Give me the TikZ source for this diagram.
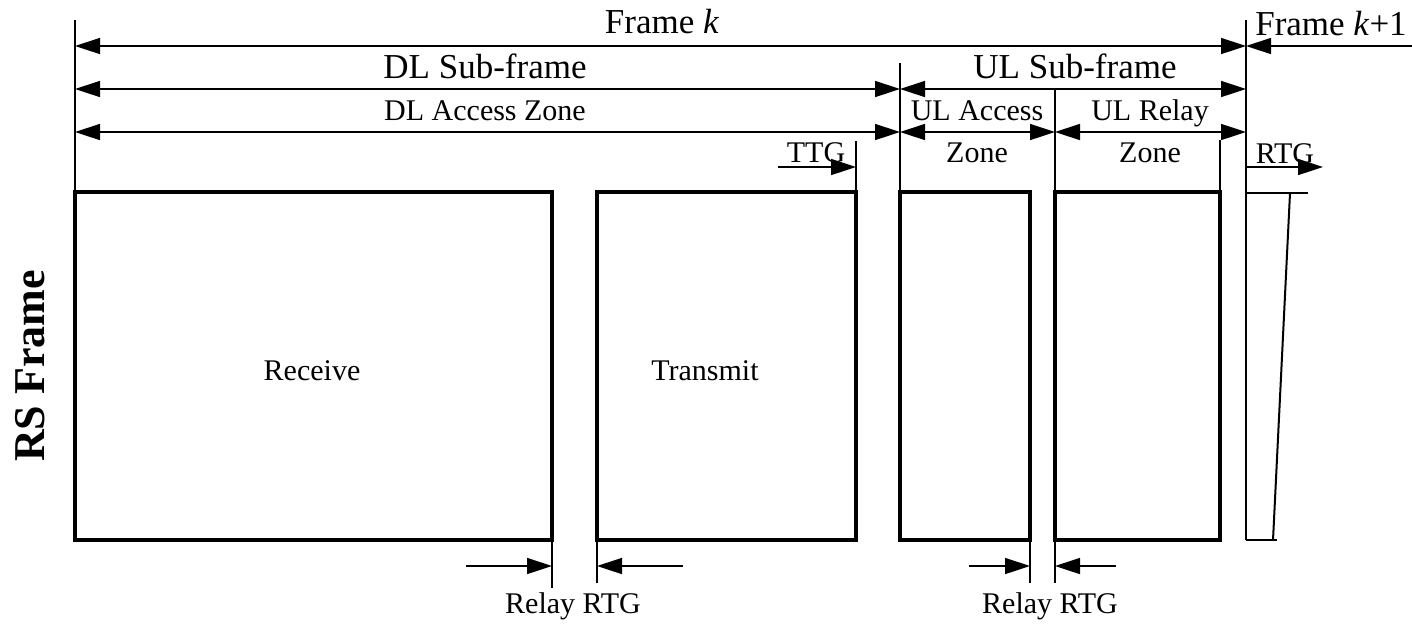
\documentclass[tikz,border=0pt]{standalone}
\usepackage{fontspec}
\setmainfont{Liberation Serif}
\usetikzlibrary{arrows.meta}
\begin{document}
\begin{tikzpicture}[x=0.5pt,y=-0.5pt,
  thin line/.style={line width=0.75pt},
  dim/.style={line width=0.75pt,{Triangle[length=12.5pt,width=8pt]}-{Triangle[length=12.5pt,width=8pt]}},
  oneway/.style={line width=0.75pt,-{Triangle[length=12.5pt,width=8pt]}},
  slot/.style={line width=2pt},
  big/.style={font=\fontsize{17.5}{20}\selectfont,anchor=base,inner sep=0pt},
  small/.style={font=\fontsize{15}{17}\selectfont,anchor=base,inner sep=0pt}]
\useasboundingbox (0,0) rectangle (1412,623);
% reference coordinates
\coordinate (L0) at (75,20);
\coordinate (Lk) at (1246,20);
\coordinate (Lul) at (900,63);
\coordinate (Lur) at (1055,89);
\coordinate (Lre) at (1220,140);
\coordinate (Ltt) at (856,141);
% frame arrows
\coordinate (a1) at (75,46); \coordinate (b1) at (1246,46); \coordinate (c1) at (1412,46);
\coordinate (a2) at (75,89); \coordinate (b2) at (900,89); \coordinate (c2) at (1246,89);
\coordinate (a3) at (75,132); \coordinate (b3) at (900,132); \coordinate (c3) at (1055,132); \coordinate (d3) at (1246,132);
\draw[dim] (a1) -- (b1);
\draw[oneway] (c1) -- (b1);
\draw[dim] (a2) -- (b2);
\draw[dim] (b2) -- (c2);
\draw[dim] (a3) -- (b3);
\draw[dim] (b3) -- (c3);
\draw[dim] (c3) -- (d3);
% vertical guide lines
\draw[thin line] (L0) -- (75,192);
\draw[thin line] (Lul) -- (900,192);
\draw[thin line] (Lur) -- (1055,192);
\draw[thin line] (Lre) -- (1220,192);
\draw[thin line] (Ltt) -- (856,192);
\draw[line width=1pt] (Lk) -- (1246,540);
% TTG / RTG arrows
\coordinate (ttgS) at (778,167); \coordinate (ttgE) at (856,167);
\draw[oneway] (ttgS) -- (ttgE);
\coordinate (rtgS) at (1246,167); \coordinate (rtgE) at (1323,167);
\draw[oneway] (rtgS) -- (rtgE);
% slots
\draw[slot] (75,192) rectangle (552,540);
\draw[slot] (597,192) rectangle (856,540);
\draw[slot] (900,192) rectangle (1030,540);
\draw[slot] (1055,192) rectangle (1220,540);
% RTG sliver
\draw[line width=1pt] (1246,193) -- (1308,193);
\draw[line width=1pt] (1290,193) -- (1273,540);
\draw[line width=1pt] (1246,540) -- (1277,540);
% relay RTG markers
\draw[thin line] (552,540) -- (552,588);
\draw[thin line] (597,540) -- (597,583);
\draw[thin line] (1030,540) -- (1030,583);
\draw[thin line] (1055,540) -- (1055,583);
\coordinate (r1s) at (466,566); \coordinate (r1e) at (552,566);
\coordinate (r2s) at (683,566); \coordinate (r2e) at (597,566);
\coordinate (r3s) at (969,566); \coordinate (r3e) at (1030,566);
\coordinate (r4s) at (1116,566); \coordinate (r4e) at (1055,566);
\draw[oneway] (r1s) -- (r1e);
\draw[oneway] (r2s) -- (r2e);
\draw[oneway] (r3s) -- (r3e);
\draw[oneway] (r4s) -- (r4e);
% labels
\node[big] (tk) at (662,33) {Frame \textit{k}};
\node[big] (tk1) at (1331,35) {Frame \textit{k}+1};
\node[big] (tdl) at (485,78) {DL Sub-frame};
\node[big] (tul) at (1075,78) {UL Sub-frame};
\node[small] (tdla) at (485,120) {DL Access Zone};
\node[small] (tula) at (977,120) {UL Access};
\node[small] (tulz) at (977,162) {Zone};
\node[small] (tulr) at (1150,120) {UL Relay};
\node[small] (tulrz) at (1150,162) {Zone};
\node[small] (tttg) at (816,162) {TTG};
\node[small] (trtg) at (1285,163) {RTG};
\node[small] (trecv) at (312,380) {Receive};
\node[small] (ttx) at (705,380) {Transmit};
\node[small] (trr1) at (573,613) {Relay RTG};
\node[small] (trr2) at (1050,613) {Relay RTG};
\node[font=\fontsize{22}{26}\selectfont\bfseries,rotate=90,inner sep=0pt] (trs) at (30,366) {RS Frame};
\end{tikzpicture}
\end{document}
